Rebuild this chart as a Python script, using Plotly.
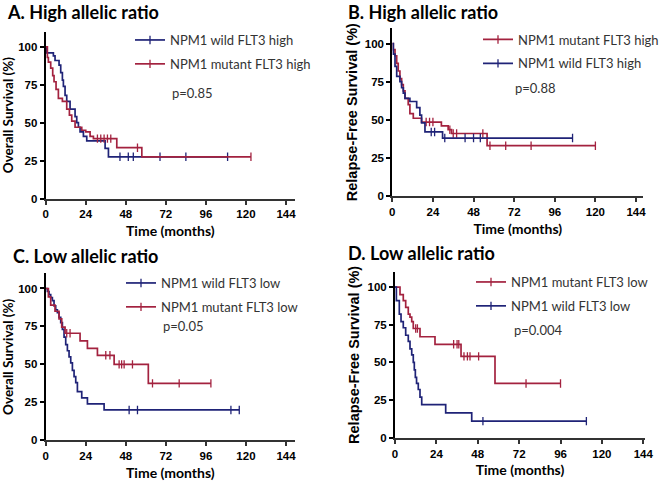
import plotly.graph_objects as go

# Kaplan-Meier step points: time (months), survival (%).
# The last point of each curve is the last follow-up (curve end).
# A. High allelic ratio, overall survival
a_wild_t = [0, 0.6, 4.6, 5.6, 8, 9, 10, 10.6, 11.6, 12.6, 14.6, 17.6, 18.6, 19.6, 20.6, 22.6, 24.6, 35.6, 37.6, 109]
a_wild_s = [100, 96, 94, 91, 88, 83, 78, 74, 68, 64, 59, 54, 50, 47, 44, 41, 38, 33, 27.5, 27.5]
a_wild_cens = [44.5, 49.5, 52.5, 68.5, 84, 109]
a_mut_t = [0, 1, 1.6, 3, 4.2, 5, 6.2, 7.6, 10, 12.6, 14.2, 15.6, 17.6, 21.6, 24, 26.6, 28.6, 42.6, 57.6, 123]
a_mut_s = [100, 93, 90, 86, 81, 77, 72, 66, 64, 59, 55, 51, 47, 45, 44, 41, 39.5, 33.5, 27.5, 27.5]
a_mut_cens = [31, 33, 35, 37, 39, 55, 123]

# B. High allelic ratio, relapse-free survival
b_mut_t = [0, 0.6, 1.6, 2.6, 3.5, 4.5, 5.5, 6.5, 7.5, 9.4, 10.4, 12.4, 17.3, 29, 33, 35, 56, 120]
b_mut_s = [100, 96, 92, 87, 82, 77, 73, 69, 64, 60, 54, 51, 48.5, 46, 43.5, 41, 33, 33]
b_mut_cens = [20, 22, 24, 34, 36, 38, 53.5, 57.7, 67, 82, 120]
b_wild_t = [0, 0.6, 1.6, 2.6, 4.5, 5.5, 6.5, 7.5, 10.4, 14.4, 16.3, 17.3, 19.3, 29.7, 106.5]
b_wild_s = [100, 93, 85, 78.5, 75, 71, 67.5, 64, 62, 58, 53, 48, 42, 38, 38]
b_wild_cens = [23, 25, 31, 43, 48, 52, 106.5]

# C. Low allelic ratio, overall survival
c_wild_t = [0, 1, 2, 3, 4, 5, 6, 7, 8, 9, 10, 11, 12, 13, 14, 15, 16, 17, 18, 19, 21.6, 25, 35, 116]
c_wild_s = [100, 98, 96, 94, 92, 88.5, 86, 84, 81, 77.5, 73, 68, 63, 59, 55, 51, 46, 42, 38, 32, 28, 24, 20, 20]
c_wild_cens = [50, 55, 111, 116]
c_mut_t = [0, 1.6, 3, 5.6, 8, 9.6, 11.6, 20.6, 25, 31, 41, 61.5, 99]
c_mut_s = [100, 94.5, 89, 85, 80, 74.5, 70.5, 65.5, 60.5, 56, 50, 37.5, 37.5]
c_mut_cens = [12.6, 14.6, 36, 38.5, 44, 45.5, 47, 52, 64, 80, 99]

# D. Low allelic ratio, relapse-free survival
d_mut_t = [0, 2.9, 4.8, 6.2, 7.7, 8.7, 9.7, 10.6, 14.5, 23.2, 38.3, 58, 96]
d_mut_s = [100, 95, 91, 86.5, 82, 80, 77, 72.5, 67, 62, 54, 36, 36]
d_mut_cens = [12, 13, 34, 36, 37, 40, 42, 43.5, 48.5, 76, 96]
d_wild_t = [0, 0.8, 2.5, 3.5, 4.8, 6.2, 7.7, 8.7, 9.7, 10.6, 11.2, 11.8, 12.5, 13.5, 14.5, 15.5, 29.4, 44.5, 111]
d_wild_s = [100, 91, 82, 77, 73, 68, 64, 59, 55, 50, 45, 40, 36, 32, 27, 22, 16.5, 11, 11]
d_wild_cens = [51, 111]

x_ticks = [0, 24, 48, 72, 96, 120, 144]
y_ticks = [0, 25, 50, 75, 100]

BLUE = "#1f2377"
RED = "#a3223f"


def step_at(t, s, x):
    val = s[0]
    for ti, si in zip(t, s):
        if ti <= x:
            val = si
    return val


fig = go.Figure()


def add_curve(t, s, cens, color, name, xa, ya, legend):
    fig.add_trace(go.Scatter(
        x=t, y=s, mode="lines", line=dict(color=color, width=1.7, shape="hv"),
        xaxis=xa, yaxis=ya, showlegend=False, hoverinfo="skip"))
    fig.add_trace(go.Scatter(
        x=cens, y=[step_at(t, s, c) for c in cens], mode="markers",
        marker=dict(symbol="line-ns", size=6, line=dict(color=color, width=1.3)),
        xaxis=xa, yaxis=ya, showlegend=False, hoverinfo="skip"))
    # legend entry only
    fig.add_trace(go.Scatter(
        x=[None], y=[None], mode="lines+markers", name=name, legendgroup=name,
        line=dict(color=color, width=1.7),
        marker=dict(symbol="line-ns", size=6, line=dict(color=color, width=1.3)),
        xaxis=xa, yaxis=ya, legend=legend))


add_curve(a_wild_t, a_wild_s, a_wild_cens, BLUE, "NPM1 wild FLT3 high", "x", "y", "legend")
add_curve(a_mut_t, a_mut_s, a_mut_cens, RED, "NPM1 mutant FLT3 high", "x", "y", "legend")
add_curve(b_mut_t, b_mut_s, b_mut_cens, RED, "NPM1 mutant FLT3 high", "x2", "y2", "legend2")
add_curve(b_wild_t, b_wild_s, b_wild_cens, BLUE, "NPM1 wild FLT3 high", "x2", "y2", "legend2")
add_curve(c_wild_t, c_wild_s, c_wild_cens, BLUE, "NPM1 wild FLT3 low", "x3", "y3", "legend3")
add_curve(c_mut_t, c_mut_s, c_mut_cens, RED, "NPM1 mutant FLT3 low", "x3", "y3", "legend3")
add_curve(d_mut_t, d_mut_s, d_mut_cens, RED, "NPM1 mutant FLT3 low", "x4", "y4", "legend4")
add_curve(d_wild_t, d_wild_s, d_wild_cens, BLUE, "NPM1 wild FLT3 low", "x4", "y4", "legend4")

W, H = 660, 482
TICKFONT = dict(family="Liberation Sans", size=11.5, color="black", weight="bold")


def xaxis(left, right, xmax, anchor):
    return dict(domain=[left / W, right / W], range=[0, xmax], anchor=anchor,
                automargin=False,
                tickvals=x_ticks, ticktext=[str(v) for v in x_ticks],
                showline=True, linewidth=2, linecolor="#333", ticks="outside",
                ticklen=4, tickwidth=1.5, tickcolor="#333", showgrid=False,
                zeroline=False, tickfont=TICKFONT,
                title=dict(text="Time (months)", standoff=7,
                           font=dict(family="Lato", size=14, color="black", weight="bold")))


def yaxis(bottom, top, anchor, title, family, size):
    return dict(domain=[1 - bottom / H, 1 - top / H], range=[0, 110], anchor=anchor,
                automargin=False,
                tickvals=y_ticks, ticktext=[str(v) for v in y_ticks],
                showline=True, linewidth=2, linecolor="black", ticks="outside",
                ticklen=4, tickwidth=1.5, tickcolor="black", showgrid=False,
                zeroline=False, tickfont=TICKFONT,
                title=dict(text=title, standoff=4,
                           font=dict(family=family, size=size, color="black", weight="bold")))


def legend(x, y):
    return dict(x=x / W, y=1 - y / H, xanchor="left", yanchor="top",
                bgcolor="rgba(0,0,0,0)", tracegroupgap=4, itemclick=False,
                font=dict(family="Lato", size=13, color="#333"))


fig.update_layout(
    width=W, height=H, margin=dict(l=0, r=0, t=0, b=0, autoexpand=False),
    paper_bgcolor="white", plot_bgcolor="white",
    xaxis=xaxis(45.7, 295, 149.4, "y"),
    yaxis=yaxis(198.5, 31.7, "x", "Overall Survival (%)", "Lato", 13.5),
    xaxis2=xaxis(392.3, 643.3, 148.3, "y2"),
    yaxis2=yaxis(196, 28.3, "x2", "Relapse-Free Survival (%)", "Liberation Sans", 14.5),
    xaxis3=xaxis(45.7, 295, 149.4, "y3"),
    yaxis3=yaxis(440.3, 273.3, "x3", "Overall Survival (%)", "Lato", 13.5),
    xaxis4=xaxis(395, 645, 145, "y4"),
    yaxis4=yaxis(437.7, 272, "x4", "Relapse-Free Survival (%)", "Liberation Sans", 14.5),
    legend=legend(130, 25),
    legend2=legend(478, 24.5),
    legend3=legend(121, 268),
    legend4=legend(471, 267),
)

titles = [("A. High allelic ratio", 5, 12), ("B. High allelic ratio", 346, 12),
          ("C. Low allelic ratio", 11, 256), ("D. Low allelic ratio", 346, 253)]
for text, x, y in titles:
    fig.add_annotation(text=text, x=x / W, y=1 - y / H, xref="paper", yref="paper",
                       xanchor="left", yanchor="middle", showarrow=False,
                       font=dict(family="Lato", size=18, color="black", weight="bold"))

pvals = [("p=0.85", 170, 93), ("p=0.88", 513, 88), ("p=0.05", 161, 326), ("p=0.004", 512, 330)]
for text, x, y in pvals:
    fig.add_annotation(text=text, x=x / W, y=1 - y / H, xref="paper", yref="paper",
                       xanchor="left", yanchor="middle", showarrow=False,
                       font=dict(family="Lato", size=13, color="#333"))

# the page body has a default 8px margin; drop it so the figure fills the window
fig.write_html("out.html", config={"displayModeBar": False},
               post_script="document.body.style.margin='0';")
